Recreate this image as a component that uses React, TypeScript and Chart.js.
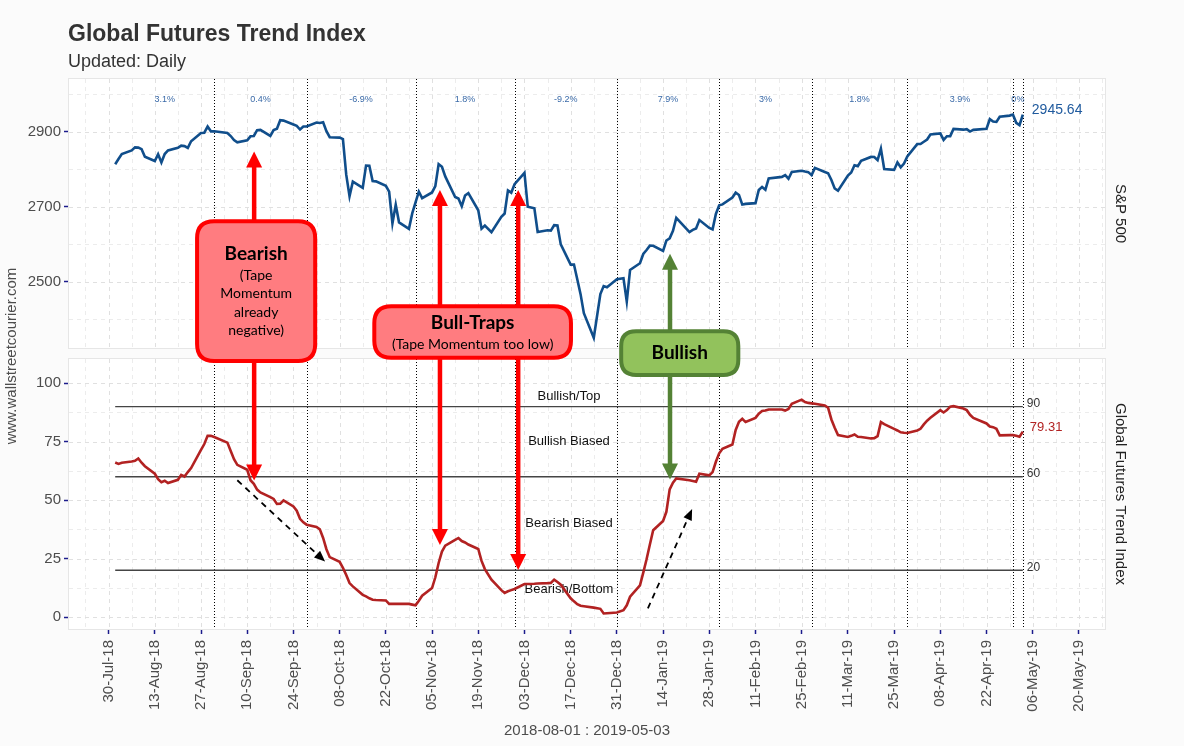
import React, { useEffect, useRef } from "react";
import { Chart, registerables } from "chart.js";

Chart.register(...registerables);

// ---------------- DATA ----------------
const tradingDates = [
  "2018-08-01","2018-08-02","2018-08-03","2018-08-06","2018-08-07","2018-08-08","2018-08-09","2018-08-10","2018-08-13","2018-08-14","2018-08-15","2018-08-16","2018-08-17","2018-08-20","2018-08-21","2018-08-22","2018-08-23","2018-08-24","2018-08-27","2018-08-28","2018-08-29","2018-08-30","2018-08-31",
  "2018-09-04","2018-09-05","2018-09-06","2018-09-07","2018-09-10","2018-09-11","2018-09-12","2018-09-13","2018-09-14","2018-09-17","2018-09-18","2018-09-19","2018-09-20","2018-09-21","2018-09-24","2018-09-25","2018-09-26","2018-09-27","2018-09-28",
  "2018-10-01","2018-10-02","2018-10-03","2018-10-04","2018-10-05","2018-10-08","2018-10-09","2018-10-10","2018-10-11","2018-10-12","2018-10-15","2018-10-16","2018-10-17","2018-10-18","2018-10-19","2018-10-22","2018-10-23","2018-10-24","2018-10-25","2018-10-26","2018-10-29","2018-10-30","2018-10-31",
  "2018-11-01","2018-11-02","2018-11-05","2018-11-06","2018-11-07","2018-11-08","2018-11-09","2018-11-12","2018-11-13","2018-11-14","2018-11-15","2018-11-16","2018-11-19","2018-11-20","2018-11-21","2018-11-23","2018-11-26","2018-11-27","2018-11-28","2018-11-29","2018-11-30",
  "2018-12-03","2018-12-04","2018-12-06","2018-12-07","2018-12-10","2018-12-11","2018-12-12","2018-12-13","2018-12-14","2018-12-17","2018-12-18","2018-12-19","2018-12-20","2018-12-21","2018-12-24","2018-12-26","2018-12-27","2018-12-28","2018-12-31",
  "2019-01-02","2019-01-03","2019-01-04","2019-01-07","2019-01-08","2019-01-09","2019-01-10","2019-01-11","2019-01-14","2019-01-15","2019-01-16","2019-01-17","2019-01-18","2019-01-22","2019-01-23","2019-01-24","2019-01-25","2019-01-28","2019-01-29","2019-01-30","2019-01-31",
  "2019-02-01","2019-02-04","2019-02-05","2019-02-06","2019-02-07","2019-02-08","2019-02-11","2019-02-12","2019-02-13","2019-02-14","2019-02-15","2019-02-19","2019-02-20","2019-02-21","2019-02-22","2019-02-25","2019-02-26","2019-02-27","2019-02-28",
  "2019-03-01","2019-03-04","2019-03-05","2019-03-06","2019-03-07","2019-03-08","2019-03-11","2019-03-12","2019-03-13","2019-03-14","2019-03-15","2019-03-18","2019-03-19","2019-03-20","2019-03-21","2019-03-22","2019-03-25","2019-03-26","2019-03-27","2019-03-28","2019-03-29",
  "2019-04-01","2019-04-02","2019-04-03","2019-04-04","2019-04-05","2019-04-08","2019-04-09","2019-04-10","2019-04-11","2019-04-12","2019-04-15","2019-04-16","2019-04-17","2019-04-18","2019-04-22","2019-04-23","2019-04-24","2019-04-25","2019-04-26","2019-04-29","2019-04-30",
  "2019-05-01","2019-05-02","2019-05-03",
];

const sp500 = [
  2813.36,2827.22,2840.35,2850.40,2858.45,2857.70,2853.58,2833.28,2821.93,2839.96,2818.37,2840.69,2850.13,2857.05,2862.96,2861.82,2856.98,2874.69,2896.74,2897.52,2914.04,2901.13,2901.52,
  2896.72,2888.60,2878.05,2871.68,2877.13,2887.89,2888.92,2904.18,2904.98,2888.80,2904.31,2907.95,2930.75,2929.67,2919.37,2915.56,2905.97,2914.00,2913.98,
  2924.59,2923.43,2925.51,2901.61,2885.57,2884.43,2880.34,2785.68,2728.37,2767.13,2750.79,2809.92,2809.21,2768.78,2767.78,2755.88,2740.69,2656.10,2705.57,2658.69,2641.25,2682.63,2711.74,
  2740.37,2723.06,2738.31,2755.45,2813.89,2806.83,2781.01,2726.22,2722.18,2701.58,2730.20,2736.27,2690.73,2641.89,2649.93,2632.56,2673.45,2682.17,2743.79,2737.80,2760.17,
  2790.37,2700.06,2695.95,2633.08,2637.72,2636.78,2651.07,2650.54,2599.95,2545.94,2546.16,2506.96,2467.42,2416.62,2351.10,2467.70,2488.83,2485.74,2506.85,
  2510.03,2447.89,2531.94,2549.69,2574.41,2584.96,2596.64,2596.26,2582.61,2610.30,2616.10,2635.96,2670.71,2632.90,2638.70,2642.33,2664.76,2643.85,2640.00,2681.05,2704.10,
  2706.53,2724.87,2737.70,2731.61,2706.05,2707.88,2709.80,2744.73,2753.03,2745.73,2775.60,2779.76,2784.70,2774.88,2792.67,2796.11,2793.90,2792.38,2784.49,
  2803.69,2792.81,2789.65,2771.45,2748.93,2743.07,2783.30,2791.52,2810.92,2808.48,2822.48,2832.94,2832.57,2824.23,2854.88,2800.71,2798.36,2818.46,2805.37,2815.44,2834.40,
  2867.19,2867.24,2873.40,2879.39,2892.74,2895.77,2878.20,2888.21,2888.32,2907.41,2905.58,2907.06,2900.45,2905.03,2907.97,2933.68,2927.25,2926.17,2939.88,2943.03,2945.83,
  2923.73,2917.52,2945.64,
];

const trendIndex = [
  66.1,65.5,66.0,66.5,66.8,67.8,66.0,64.5,61.3,59.0,57.7,58.3,57.3,58.7,60.8,60.1,62.0,63.7,71.5,74.0,77.5,77.5,77.0,
  74.6,71.0,67.5,65.1,63.0,58.5,57.0,54.5,53.3,51.3,50.5,48.4,48.5,49.9,47.3,45.5,42.0,40.5,39.5,
  38.5,37.5,33.8,29.0,25.6,23.6,21.0,18.0,14.5,13.1,9.5,8.8,8.0,7.4,7.3,7.1,5.6,5.6,5.6,5.6,5.6,5.3,5.0,
  7.0,9.1,12.4,17.0,23.1,28.0,30.5,33.0,33.8,32.5,31.9,31.0,29.1,24.0,20.5,16.0,11.5,10.3,11.0,11.5,12.0,
  14.1,14.1,14.2,14.3,14.5,14.6,16.0,15.0,13.8,8.0,6.7,5.5,4.8,4.6,4.0,3.5,1.5,1.6,1.9,
  2.9,5.0,8.7,13.5,19.0,24.7,31.0,37.1,41.1,45.0,54.6,57.5,59.3,58.5,58.2,57.9,61.3,60.6,62.0,66.4,70.0,
  72.0,73.8,80.0,83.5,84.8,83.4,85.2,87.0,88.1,88.3,88.8,88.8,88.3,89.0,91.2,93.0,92.0,91.6,91.4,
  91.2,90.5,89.5,84.5,81.0,77.8,77.0,77.5,78.1,77.1,77.0,76.4,76.5,77.4,83.4,82.5,80.5,79.8,79.0,78.8,78.7,
  79.8,80.5,82.4,84.0,85.2,88.5,87.5,88.5,90.0,90.2,89.2,88.5,86.5,85.2,82.8,81.5,81.2,80.5,77.7,77.8,77.8,
  77.5,77.1,79.31,
];

const xTickLabels = [
  "30-Jul-18","13-Aug-18","27-Aug-18","10-Sep-18","24-Sep-18","08-Oct-18","22-Oct-18","05-Nov-18","19-Nov-18","03-Dec-18","17-Dec-18",
  "31-Dec-18","14-Jan-19","28-Jan-19","11-Feb-19","25-Feb-19","11-Mar-19","25-Mar-19","08-Apr-19","22-Apr-19","06-May-19","20-May-19",
];
const spTicks = [2500, 2700, 2900];
const spMinorGrid = [2400, 2600, 2800, 3000];
const tiTicks = [0, 25, 50, 75, 100];
const tiMinorGrid = [12.5, 37.5, 62.5, 87.5];

const monthEnds = ["2018-08-31","2018-09-28","2018-10-31","2018-11-30","2018-12-31","2019-01-31","2019-02-28","2019-03-29","2019-04-30","2019-05-03"];
const monthlyReturns = ["3.1%","0.4%","-6.9%","1.8%","-9.2%","7.9%","3%","1.8%","3.9%","0%"];
const returnLabelLevel = 2985;

const levelValues = [90, 60, 20];
const zoneLabels = ["Bullish/Top", "Bullish Biased", "Bearish Biased", "Bearish/Bottom"];
const zoneLabelValues = [94.4, 75.1, 39.9, 12.0];

// callouts (data coordinates: day offsets from 30-Jul-18, S&P units, index units)
const calloutBoxes = [
  { title: "Bearish", lines: ["(Tape", "Momentum", "already", "negative)"], fromDay: 26.2, toDay: 63.2, topSP: 2667, bottomTI: 108.7, fill: "#ff7c80", stroke: "#ff0000" },
  { title: "Bull-Traps", lines: ["(Tape Momentum too low)"], fromDay: 79.9, toDay: 140.7, topSP: 2440.5, bottomTI: 110.0, fill: "#ff7c80", stroke: "#ff0000" },
  { title: "Bullish", lines: [] as string[], fromDay: 154.7, toDay: 191.4, topSP: 2374, bottomTI: 102.7, fill: "#92c25c", stroke: "#548235" },
];
const calloutArrows = [
  { day: 44.1, upToSP: 2847.5, downToTI: 58.4, box: 0 },
  { day: 100.4, upToSP: 2745, downToTI: 30.8, box: 1 },
  { day: 124.1, upToSP: 2745, downToTI: 20.1, box: 1 },
  { day: 170.1, upToSP: 2574.7, downToTI: 58.8, box: 2 },
];
const trendArrows = [
  { fromDay: 39.0, fromTI: 58.5, toDay: 65.6, toTI: 23.7 },
  { fromDay: 163.4, fromTI: 3.7, toDay: 176.8, toTI: 46.2 },
];

// ---------------- LAYOUT CONFIG ----------------
const FONT = '"Liberation Sans", Arial, Helvetica, sans-serif';
const BOX_FONT = 'Lato, "Open Sans", sans-serif';
const X_MIN = -12.3;
const X_MAX = 302.2;
// visible panel limits
const SP_PANEL_MIN = 2321.3;
const SP_PANEL_MAX = 3043.2;
const TI_PANEL_MIN = -5.56;
const TI_PANEL_MAX = 110.8;
const TOP_PANEL_PX = 271;
const BOTTOM_PANEL_PX = 272;
const GAP_PX = 9;
// stacked axis boxes share the gap
const TOP_BOX_PX = TOP_PANEL_PX + GAP_PX / 2;
const BOTTOM_BOX_PX = BOTTOM_PANEL_PX + GAP_PX / 2;
const SP_AXIS_MIN = SP_PANEL_MAX - ((SP_PANEL_MAX - SP_PANEL_MIN) * TOP_BOX_PX) / TOP_PANEL_PX;
const TI_AXIS_MAX = TI_PANEL_MIN + ((TI_PANEL_MAX - TI_PANEL_MIN) * BOTTOM_BOX_PX) / BOTTOM_PANEL_PX;

const SP_COLOR = "#104E8B";
const TI_COLOR = "#B22222";
const TICK_COLOR = "#1c1c8c";
const LABEL_COLOR = "#4d4d4d";

const BASE = Date.UTC(2018, 6, 30);
const MONTHS = ["Jan","Feb","Mar","Apr","May","Jun","Jul","Aug","Sep","Oct","Nov","Dec"];
const dayOf = (iso: string) => {
  const [y, m, d] = iso.split("-").map(Number);
  return (Date.UTC(y, m - 1, d) - BASE) / 86400000;
};
const dayOfLabel = (lbl: string) => {
  const [d, mon, yy] = lbl.split("-");
  return (Date.UTC(2000 + Number(yy), MONTHS.indexOf(mon), Number(d)) - BASE) / 86400000;
};
const tickDays = xTickLabels.map(dayOfLabel);

function roundRectPath(ctx: CanvasRenderingContext2D, x: number, y: number, w: number, h: number, r: number) {
  ctx.beginPath();
  ctx.moveTo(x + r, y);
  ctx.lineTo(x + w - r, y);
  ctx.quadraticCurveTo(x + w, y, x + w, y + r);
  ctx.lineTo(x + w, y + h - r);
  ctx.quadraticCurveTo(x + w, y + h, x + w - r, y + h);
  ctx.lineTo(x + r, y + h);
  ctx.quadraticCurveTo(x, y + h, x, y + h - r);
  ctx.lineTo(x, y + r);
  ctx.quadraticCurveTo(x, y, x + r, y);
  ctx.closePath();
}

function arrowTo(ctx: CanvasRenderingContext2D, x0: number, y0: number, x1: number, y1: number, color: string, lw: number, headW: number, headL: number, dash: number[] = []) {
  const ang = Math.atan2(y1 - y0, x1 - x0);
  const bx = x1 - Math.cos(ang) * headL;
  const by = y1 - Math.sin(ang) * headL;
  ctx.save();
  ctx.strokeStyle = color;
  ctx.fillStyle = color;
  ctx.lineWidth = lw;
  ctx.setLineDash(dash);
  ctx.beginPath();
  ctx.moveTo(x0, y0);
  ctx.lineTo(bx + Math.cos(ang) * 1, by + Math.sin(ang) * 1);
  ctx.stroke();
  ctx.setLineDash([]);
  ctx.beginPath();
  ctx.moveTo(x1, y1);
  ctx.lineTo(bx + Math.sin(ang) * headW / 2, by - Math.cos(ang) * headW / 2);
  ctx.lineTo(bx - Math.sin(ang) * headW / 2, by + Math.cos(ang) * headW / 2);
  ctx.closePath();
  ctx.fill();
  ctx.restore();
}

const chartDecor = {
  id: "chartDecor",
  beforeDraw(chart: any) {
    const { ctx, chartArea: ca } = chart;
    const xs = chart.scales.x;
    const ys = chart.scales.ySP;
    const yt = chart.scales.yTI;
    ctx.save();
    ctx.fillStyle = "#fbfbfb";
    ctx.fillRect(0, 0, chart.width, chart.height);

    ctx.fillStyle = "#333333";
    ctx.textAlign = "left";
    ctx.textBaseline = "alphabetic";
    ctx.font = `bold 23px ${FONT}`;
    ctx.fillText("Global Futures Trend Index", 68, 41);
    ctx.font = `18px ${FONT}`;
    ctx.fillText("Updated: Daily", 68, 67);

    const panels = [
      { top: ys.getPixelForValue(SP_PANEL_MAX), bottom: ys.getPixelForValue(SP_PANEL_MIN), scale: ys, major: spTicks, minor: spMinorGrid },
      { top: yt.getPixelForValue(TI_PANEL_MAX), bottom: yt.getPixelForValue(TI_PANEL_MIN), scale: yt, major: tiTicks, minor: tiMinorGrid },
    ];
    const vMajor = tickDays;
    const vMinor = tickDays.map((d) => d - 7).concat([tickDays[tickDays.length - 1] + 7]);
    for (const p of panels) {
      ctx.fillStyle = "#ffffff";
      ctx.fillRect(ca.left, p.top, ca.right - ca.left, p.bottom - p.top);
      ctx.strokeStyle = "#e6e6e6";
      ctx.lineWidth = 1;
      ctx.strokeRect(ca.left + 0.5, p.top + 0.5, ca.right - ca.left - 1, p.bottom - p.top - 1);
      ctx.setLineDash([4, 4]);
      const hLine = (v: number, color: string) => {
        const y = Math.round(p.scale.getPixelForValue(v)) + 0.5;
        if (y <= p.top + 1 || y >= p.bottom - 1) return;
        ctx.strokeStyle = color;
        ctx.beginPath();
        ctx.moveTo(ca.left + 1, y);
        ctx.lineTo(ca.right - 1, y);
        ctx.stroke();
      };
      const vLine = (d: number, color: string) => {
        const x = Math.round(xs.getPixelForValue(d)) + 0.5;
        if (x <= ca.left + 1 || x >= ca.right - 1) return;
        ctx.strokeStyle = color;
        ctx.beginPath();
        ctx.moveTo(x, p.top + 1);
        ctx.lineTo(x, p.bottom - 1);
        ctx.stroke();
      };
      p.minor.forEach((v: number) => hLine(v, "#ececec"));
      vMinor.forEach((d) => vLine(d, "#ececec"));
      p.major.forEach((v: number) => hLine(v, "#e0e0e0"));
      vMajor.forEach((d) => vLine(d, "#e0e0e0"));
      ctx.setLineDash([]);
    }
    ctx.restore();
  },
  beforeDatasetsDraw(chart: any) {
    const { ctx } = chart;
    const xs = chart.scales.x;
    const ys = chart.scales.ySP;
    const yt = chart.scales.yTI;
    const spTop = ys.getPixelForValue(SP_PANEL_MAX);
    const spBot = ys.getPixelForValue(SP_PANEL_MIN);
    const tiTop = yt.getPixelForValue(TI_PANEL_MAX);
    const tiBot = yt.getPixelForValue(TI_PANEL_MIN);
    ctx.save();
    ctx.strokeStyle = "#000000";
    ctx.lineWidth = 1;
    ctx.setLineDash([1, 2]);
    for (const me of monthEnds) {
      const x = Math.round(xs.getPixelForValue(dayOf(me))) + 0.5;
      ctx.beginPath();
      ctx.moveTo(x, spTop + 1);
      ctx.lineTo(x, spBot - 1);
      ctx.moveTo(x, tiTop + 1);
      ctx.lineTo(x, tiBot - 1);
      ctx.stroke();
    }
    ctx.setLineDash([]);
    const x0 = xs.getPixelForValue(dayOf(tradingDates[0]));
    const x1 = xs.getPixelForValue(dayOf(tradingDates[tradingDates.length - 1]));
    ctx.strokeStyle = "#454545";
    ctx.lineWidth = 1.3;
    for (const lv of levelValues) {
      const y = yt.getPixelForValue(lv);
      ctx.beginPath();
      ctx.moveTo(x0, y);
      ctx.lineTo(x1, y);
      ctx.stroke();
    }
    ctx.fillStyle = "#333333";
    ctx.font = `12px ${FONT}`;
    ctx.textAlign = "left";
    ctx.textBaseline = "alphabetic";
    for (const lv of levelValues) {
      ctx.fillText(String(lv), x1 + 4, yt.getPixelForValue(lv) + 0.5);
    }
    const midDay = (dayOf(tradingDates[0]) + dayOf(tradingDates[tradingDates.length - 1])) / 2;
    ctx.fillStyle = "#111111";
    ctx.font = `13px ${FONT}`;
    ctx.textAlign = "center";
    ctx.textBaseline = "middle";
    zoneLabels.forEach((t, i) => ctx.fillText(t, xs.getPixelForValue(midDay), yt.getPixelForValue(zoneLabelValues[i])));
    ctx.restore();
  },
  afterDatasetsDraw(chart: any) {
    const { ctx, chartArea: ca } = chart;
    const xs = chart.scales.x;
    const ys = chart.scales.ySP;
    const yt = chart.scales.yTI;
    ctx.save();
    ctx.fillStyle = "#3a6aa8";
    ctx.font = `9px ${FONT}`;
    ctx.textAlign = "center";
    ctx.textBaseline = "middle";
    let prev = dayOf(tradingDates[0]);
    monthEnds.forEach((me, i) => {
      const d = dayOf(me);
      ctx.fillText(monthlyReturns[i], xs.getPixelForValue((prev + d) / 2), ys.getPixelForValue(returnLabelLevel));
      prev = d;
    });
    const lastDay = dayOf(tradingDates[tradingDates.length - 1]);
    const lx = xs.getPixelForValue(lastDay);
    ctx.textAlign = "left";
    ctx.font = `14px ${FONT}`;
    ctx.fillStyle = "#1f5a9e";
    ctx.fillText(sp500[sp500.length - 1].toFixed(2), lx + 9, ys.getPixelForValue(sp500[sp500.length - 1]) - 4);
    ctx.font = `13px ${FONT}`;
    ctx.fillStyle = "#b22222";
    ctx.fillText(trendIndex[trendIndex.length - 1].toFixed(2), lx + 7, yt.getPixelForValue(trendIndex[trendIndex.length - 1]) - 4);

    ctx.fillStyle = "#222222";
    ctx.font = `15px ${FONT}`;
    ctx.textAlign = "center";
    ctx.textBaseline = "middle";
    const spMid = (ys.getPixelForValue(SP_PANEL_MAX) + ys.getPixelForValue(SP_PANEL_MIN)) / 2;
    const tiMid = (yt.getPixelForValue(TI_PANEL_MAX) + yt.getPixelForValue(TI_PANEL_MIN)) / 2;
    ctx.save();
    ctx.translate(ca.right + 14, spMid);
    ctx.rotate(Math.PI / 2);
    ctx.fillText("S&P 500", 0, 0);
    ctx.restore();
    ctx.save();
    ctx.translate(ca.right + 14, tiMid);
    ctx.rotate(Math.PI / 2);
    ctx.fillText("Global Futures Trend Index", 0, 0);
    ctx.restore();
    ctx.save();
    ctx.fillStyle = LABEL_COLOR;
    ctx.translate(12, (ca.top + ca.bottom) / 2 + 2);
    ctx.rotate(-Math.PI / 2);
    ctx.fillText("www.wallstreetcourier.com", 0, 0);
    ctx.restore();

    for (const a of trendArrows) {
      arrowTo(ctx, xs.getPixelForValue(a.fromDay), yt.getPixelForValue(a.fromTI), xs.getPixelForValue(a.toDay), yt.getPixelForValue(a.toTI), "#000000", 1.8, 9, 11, [6, 5]);
    }

    for (const a of calloutArrows) {
      const b = calloutBoxes[a.box];
      const x = xs.getPixelForValue(a.day);
      const bt = ys.getPixelForValue(b.topSP);
      const bb = yt.getPixelForValue(b.bottomTI);
      arrowTo(ctx, x, bt + 4, x, ys.getPixelForValue(a.upToSP), b.stroke, 4.5, 16, 16);
      arrowTo(ctx, x, bb - 4, x, yt.getPixelForValue(a.downToTI), b.stroke, 4.5, 16, 16);
    }

    for (const b of calloutBoxes) {
      const l = xs.getPixelForValue(b.fromDay);
      const r = xs.getPixelForValue(b.toDay);
      const t = ys.getPixelForValue(b.topSP);
      const bt = yt.getPixelForValue(b.bottomTI);
      roundRectPath(ctx, l + 2, t + 2, r - l - 4, bt - t - 4, Math.min(17, (bt - t) / 3.2));
      ctx.fillStyle = b.fill;
      ctx.fill();
      ctx.strokeStyle = b.stroke;
      ctx.lineWidth = 4;
      ctx.stroke();
      const titleH = 24;
      const lineH = 18.5;
      const total = titleH + b.lines.length * lineH;
      let y = (t + bt) / 2 - total / 2;
      const cx = (l + r) / 2;
      ctx.fillStyle = "#000000";
      ctx.textAlign = "center";
      ctx.textBaseline = "middle";
      ctx.font = `bold 19px ${BOX_FONT}`;
      ctx.fillText(b.title, cx, y + titleH / 2);
      y += titleH;
      ctx.font = `14px ${BOX_FONT}`;
      for (const ln of b.lines) {
        ctx.fillText(ln, cx, y + lineH / 2);
        y += lineH;
      }
    }
    ctx.restore();
  },
};

export default function App() {
  const ref = useRef<HTMLCanvasElement>(null);
  useEffect(() => {
    if (!ref.current) return;
    const spData = tradingDates.map((d, i) => ({ x: dayOf(d), y: sp500[i] }));
    const tiData = tradingDates.map((d, i) => ({ x: dayOf(d), y: trendIndex[i] }));
    const yAxis = (min: number, max: number, ticks: number[], weight: number) => ({
      type: "linear" as const,
      position: "left" as const,
      stack: "panels",
      stackWeight: weight,
      min,
      max,
      afterBuildTicks: (s: any) => {
        s.ticks = ticks.map((v) => ({ value: v }));
      },
      afterFit: (s: any) => {
        s.width = 68;
      },
      ticks: { color: LABEL_COLOR, font: { family: FONT, size: 15 }, padding: 3, autoSkip: false, callback: (v: any) => String(v) },
      grid: { display: true, drawOnChartArea: false, drawTicks: true, tickLength: 4, tickColor: TICK_COLOR, tickWidth: 1.5 },
      border: { display: false },
    });
    const chart = new Chart(ref.current, {
      type: "line",
      data: {
        datasets: [
          { label: "S&P 500", data: spData, yAxisID: "ySP", borderColor: SP_COLOR, borderWidth: 2.6, pointRadius: 0, tension: 0, fill: false },
          { label: "Global Futures Trend Index", data: tiData, yAxisID: "yTI", borderColor: TI_COLOR, borderWidth: 2.6, pointRadius: 0, tension: 0, fill: false },
        ],
      },
      options: {
        responsive: false,
        maintainAspectRatio: false,
        animation: false,
        devicePixelRatio: 1,
        layout: { padding: { left: 0, right: 78, top: 78, bottom: 0 } },
        plugins: { legend: { display: false }, tooltip: { enabled: false }, title: { display: false } },
        scales: {
          x: {
            type: "linear",
            min: X_MIN,
            max: X_MAX,
            afterBuildTicks: (s: any) => {
              s.ticks = tickDays.map((v) => ({ value: v }));
            },
            afterFit: (s: any) => {
              s.height = 116;
            },
            ticks: {
              autoSkip: false,
              minRotation: 90,
              maxRotation: 90,
              padding: 6,
              color: LABEL_COLOR,
              font: { family: FONT, size: 15 },
              callback: (_v: any, i: number) => xTickLabels[i],
            },
            grid: { display: true, drawOnChartArea: false, drawTicks: true, tickLength: 4, tickColor: TICK_COLOR, tickWidth: 1.5 },
            border: { display: false },
            title: { display: true, text: "2018-08-01 : 2019-05-03", color: LABEL_COLOR, font: { family: FONT, size: 15 }, padding: { top: 0, bottom: 6 } },
          },
          yTI: yAxis(TI_PANEL_MIN, TI_AXIS_MAX, tiTicks, BOTTOM_BOX_PX),
          ySP: yAxis(SP_AXIS_MIN, SP_PANEL_MAX, spTicks, TOP_BOX_PX),
        },
      } as any,
      plugins: [chartDecor],
    });
    return () => chart.destroy();
  }, []);
  return (
    <div style={{ position: "fixed", left: 0, top: 0, width: 1184, height: 746, background: "#fbfbfb" }}>
      <canvas ref={ref} width={1184} height={746} style={{ width: 1184, height: 746, display: "block" }} />
    </div>
  );
}
